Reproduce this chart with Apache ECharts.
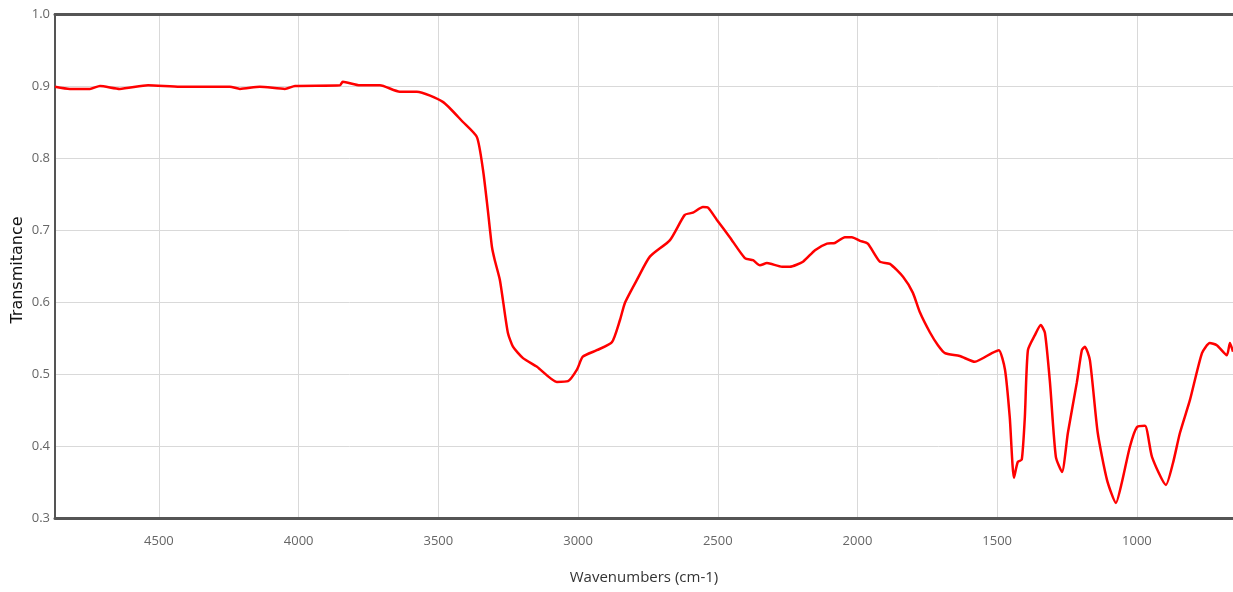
<!DOCTYPE html>
<html>
<head>
<meta charset="utf-8">
<script src="https://cdn.jsdelivr.net/npm/echarts@6/dist/echarts.min.js"></script>
<style>
html,body{margin:0;padding:0;background:#fff;}
#chart{width:1233px;height:592px;}
</style>
</head>
<body>
<div id="chart"></div>
<script>
// Wavenumbers (cm-1)
const wavenumbers = [4872,4819,4747,4711,4640,4539,4425,4246,4210,4139,4049,4013,3852,3842,3781,3709,3638,3577,3484,3412,3362,3340,3323,3308,3298,3280,3269,3251,3233,3197,3147,3076,3036,3004,2983,2933,2879,2850,2832,2789,2743,2671,2618,2589,2553,2535,2503,2457,2403,2374,2349,2324,2270,2242,2195,2152,2109,2081,2045,2020,1991,1963,1920,1884,1837,1802,1777,1741,1712,1687,1634,1580,1519,1494,1472,1455,1440,1426,1412,1401,1390,1365,1344,1329,1311,1290,1268,1247,1215,1197,1186,1168,1140,1107,1075,1054,1025,1000,971,946,896,871,846,810,767,739,714,678,667,656];
// Transmittance
const transmittance = [0.899,0.896,0.896,0.900,0.896,0.901,0.899,0.899,0.896,0.899,0.896,0.900,0.901,0.906,0.901,0.901,0.892,0.892,0.878,0.850,0.829,0.783,0.728,0.676,0.658,0.631,0.603,0.557,0.538,0.522,0.510,0.489,0.490,0.506,0.524,0.533,0.544,0.575,0.599,0.631,0.663,0.686,0.721,0.724,0.732,0.731,0.714,0.690,0.661,0.658,0.651,0.654,0.649,0.649,0.656,0.672,0.681,0.682,0.690,0.690,0.685,0.681,0.656,0.653,0.635,0.613,0.586,0.558,0.540,0.529,0.525,0.517,0.529,0.533,0.506,0.440,0.356,0.378,0.381,0.440,0.533,0.554,0.568,0.557,0.488,0.385,0.364,0.418,0.488,0.533,0.538,0.519,0.418,0.353,0.321,0.349,0.399,0.426,0.428,0.385,0.346,0.376,0.418,0.464,0.529,0.543,0.540,0.526,0.543,0.531];
const xRange = [656, 4872];
const yRange = [0.3, 1.0];
const xTitle = 'Wavenumbers (cm-1)';
const yTitle = 'Transmitance';

const seriesData = wavenumbers.map((w, i) => [w, transmittance[i]]);
const chart = echarts.init(document.getElementById('chart'), null, {renderer: 'canvas'});
const axisCol = '#555555';
const gridCol = '#d9d9d9';
chart.setOption({
  animation: false,
  backgroundColor: '#ffffff',
  grid: {left: 55, right: 0, top: 14, bottom: 74, containLabel: false, outerBoundsMode: 'none'},
  graphic: [{
    type: 'text', x: 18, y: 270, rotation: Math.PI / 2,
    style: {text: yTitle, fontFamily: 'DejaVu Sans', fontSize: 16, fill: '#111',
      textAlign: 'center', textVerticalAlign: 'middle', verticalAlign: 'middle', align: 'center'}
  }],
  xAxis: [{
    type: 'value', min: xRange[0], max: xRange[1], inverse: true,
    splitNumber: 8, minInterval: 500, maxInterval: 500,
    name: xTitle, nameLocation: 'middle', nameGap: 52,
    nameTextStyle: {fontFamily: 'Open Sans', fontSize: 15, color: '#333'},
    axisLine: {show: true, lineStyle: {color: axisCol, width: 3}},
    axisTick: {show: false},
    axisLabel: {fontFamily: 'Open Sans', fontSize: 13, color: '#666', margin: 17,
      showMinLabel: false, showMaxLabel: false,
      formatter: v => (v % 500 === 0 ? String(v) : '')},
    splitLine: {show: true, lineStyle: {color: gridCol, width: 1}}
  }, {
    type: 'value', min: xRange[0], max: xRange[1], inverse: true, position: 'top',
    axisLine: {show: true, onZero: false, lineStyle: {color: axisCol, width: 3}},
    axisTick: {show: false}, axisLabel: {show: false}, splitLine: {show: false}
  }],
  yAxis: {
    type: 'value', min: yRange[0], max: yRange[1], interval: 0.1,
    axisLine: {show: true, onZero: false, lineStyle: {color: axisCol, width: 2}},
    axisTick: {show: false},
    axisLabel: {fontFamily: 'Open Sans', fontSize: 13, color: '#666', margin: 5,
      formatter: v => v.toFixed(1)},
    splitLine: {show: true, lineStyle: {color: gridCol, width: 1}}
  },
  series: [{
    type: 'line', xAxisIndex: 0, data: seriesData, showSymbol: false, smooth: 0.2,
    lineStyle: {color: '#ff0000', width: 2.5}, itemStyle: {color: '#ff0000'}
  }]
});
</script>
</body>
</html>
